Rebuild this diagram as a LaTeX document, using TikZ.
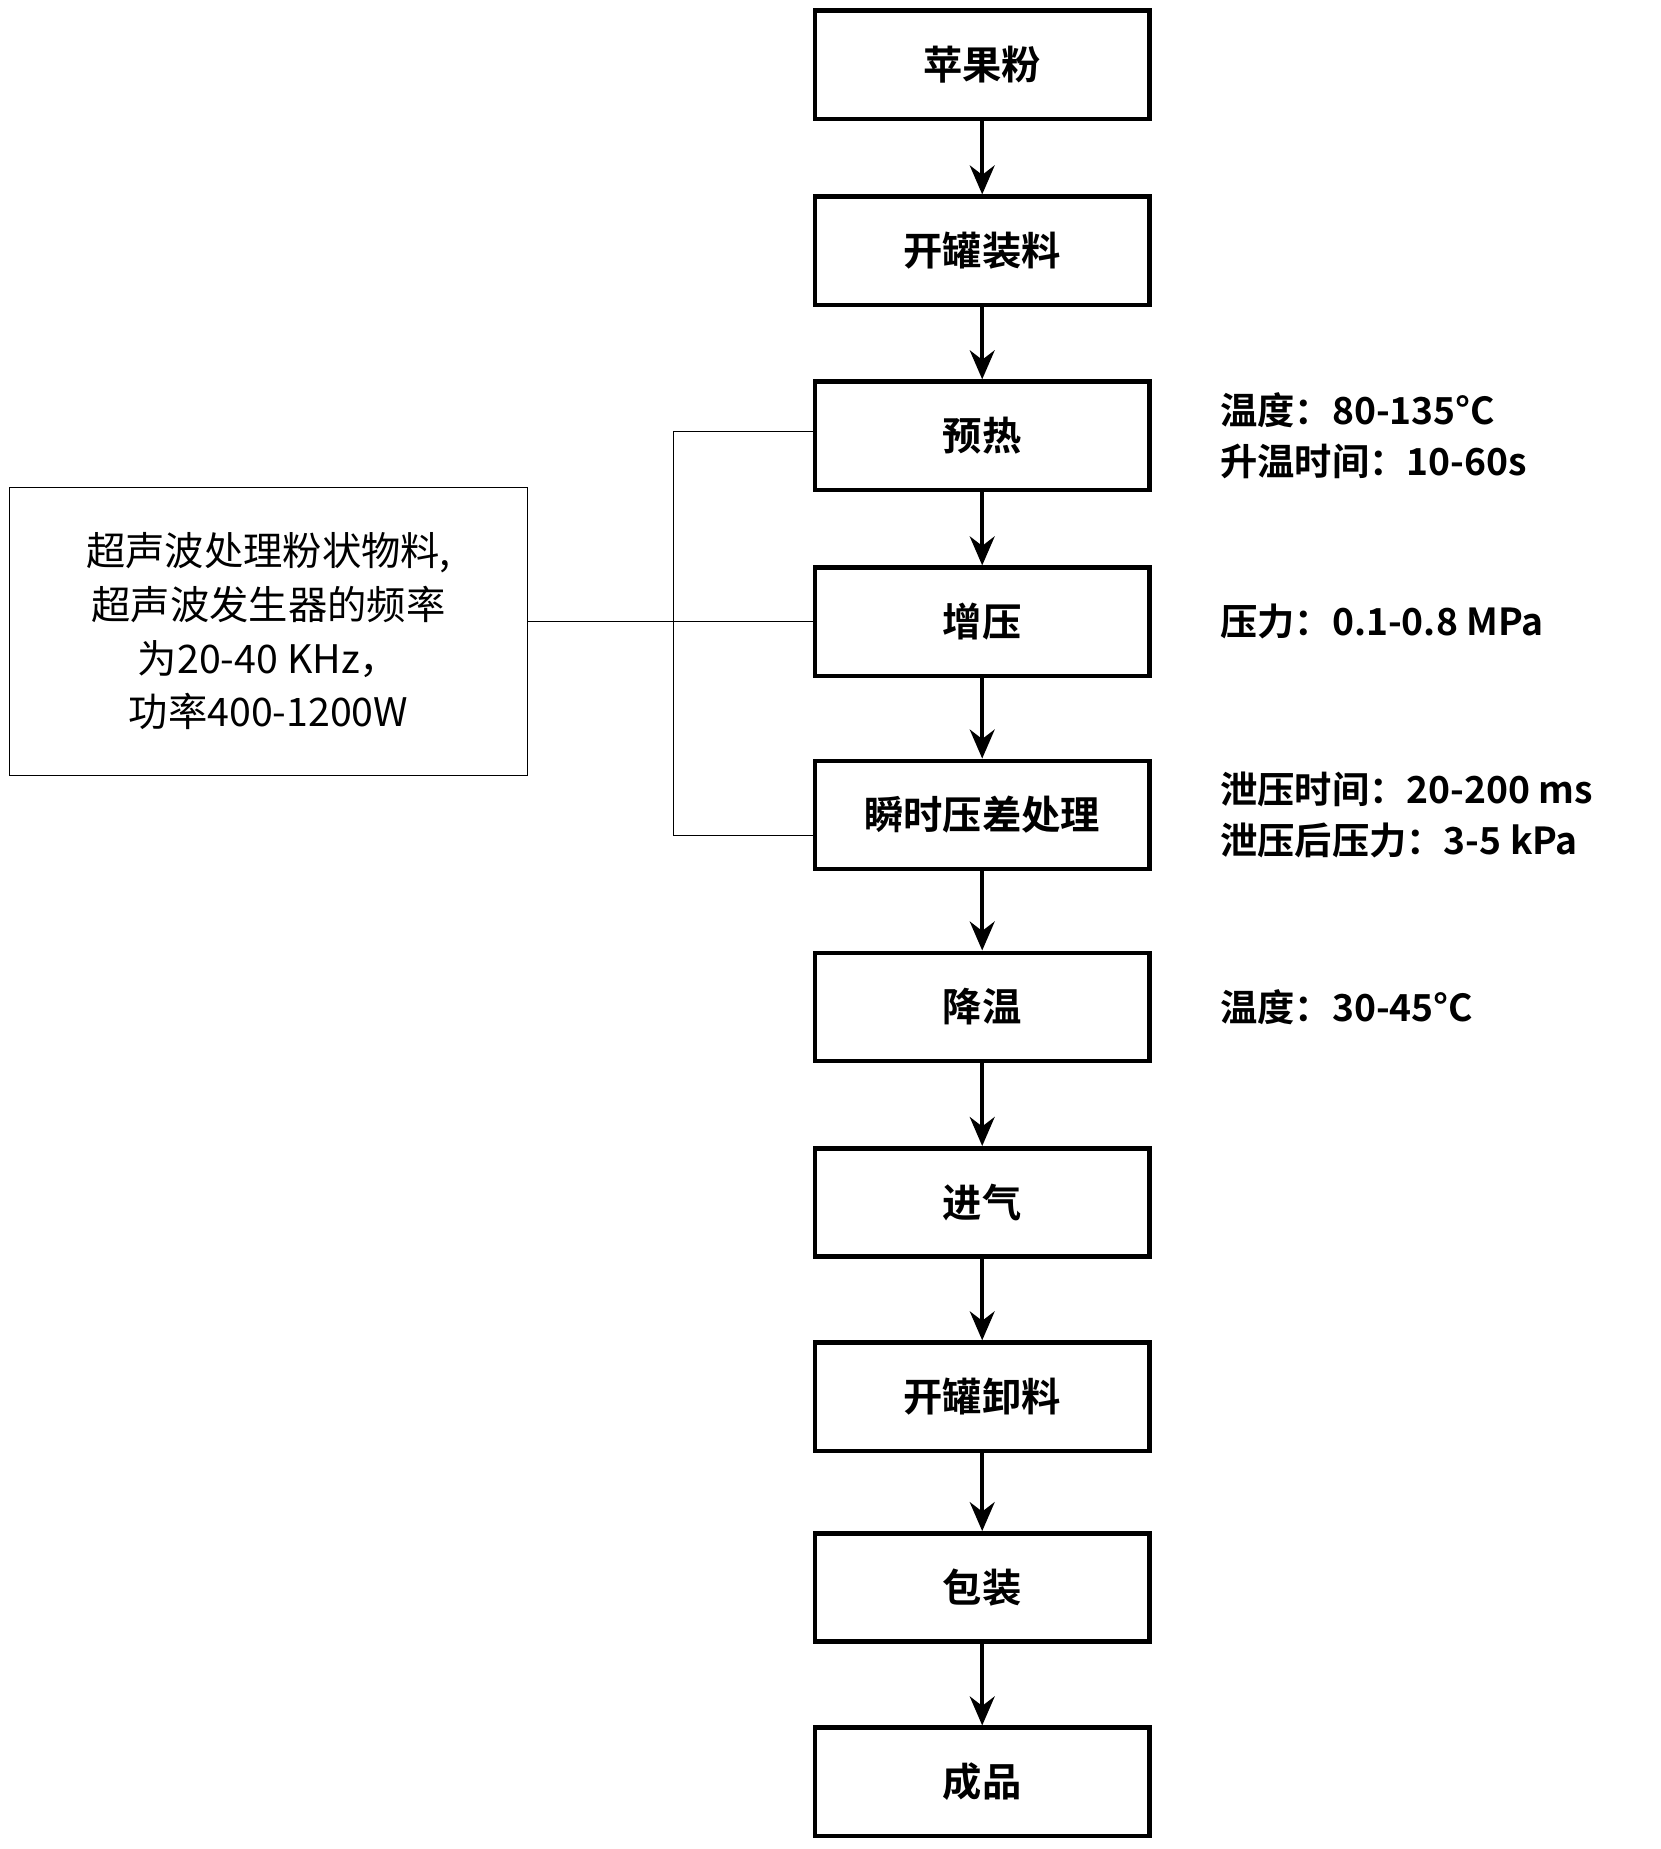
\documentclass[tikz,border=0pt]{standalone}
\usepackage{fontspec}
\setmainfont{Liberation Serif}
\newfontfamily\cjk{Noto Sans CJK SC}
\newfontfamily\cjkb{Noto Sans CJK SC}[BoldFont={* Bold}]
\usetikzlibrary{arrows.meta}
\begin{document}
\begin{tikzpicture}[x=0.02cm,y=-0.02cm,
  stage/.style={draw, line width=2.2pt, minimum width=5.68cm, minimum height=1.84cm, font=\cjkb\bfseries\fontsize{19}{22}\selectfont},
  note/.style={anchor=west, align=left, font=\cjkb\bfseries\fontsize{18}{25}\selectfont},
  flow/.style={-{Stealth[length=14pt,width=12pt]}, line width=2pt}]
  \useasboundingbox (0,0) rectangle (1410,1570);
  \node[stage] (s1) at (834,55) {苹果粉};
  \node[stage] (s2) at (834,213) {开罐装料};
  \node[stage] (s3) at (834,370) {预热};
  \node[stage] (s4) at (834,528) {增压};
  \node[stage] (s5) at (834,692) {瞬时压差处理};
  \node[stage] (s6) at (834,855) {降温};
  \node[stage] (s7) at (834,1021) {进气};
  \node[stage] (s8) at (834,1186) {开罐卸料};
  \node[stage] (s9) at (834,1348) {包装};
  \node[stage] (s10) at (834,1513) {成品};
  \foreach \a/\b in {s1/s2,s2/s3,s3/s4,s4/s5,s5/s6,s6/s7,s7/s8,s8/s9,s9/s10}
    \draw[flow] (\a) -- (\b);
  % ultrasound
  \node[draw, thin, minimum width=8.8cm, minimum height=4.9cm, align=center,
    font=\cjk\fontsize{19}{26}\selectfont] (us) at (228,536)
    {超声波处理粉状物料,\\超声波发生器的频率\\为20-40 KHz，\\功率400-1200W};
  \draw[thin] (us.east |- s4.west) -- (s4.west);
  \coordinate (top) at (572,366);
  \coordinate (bot) at (572,709);
  \draw[thin] (s3.west |- top) -- (top) -- (bot) -- (s5.west |- bot);
  % conditions
  \node[note] (n3) at (1030,370) {温度：80-135\textdegree C\\升温时间：10-60s};
  \node[note] (n4) at (1030,528) {压力：0.1-0.8 MPa};
  \node[note] (n5) at (1030,692) {泄压时间：20-200 ms\\泄压后压力：3-5 kPa};
  \node[note] (n6) at (1030,855) {温度：30-45\textdegree C};
\end{tikzpicture}
\end{document}
